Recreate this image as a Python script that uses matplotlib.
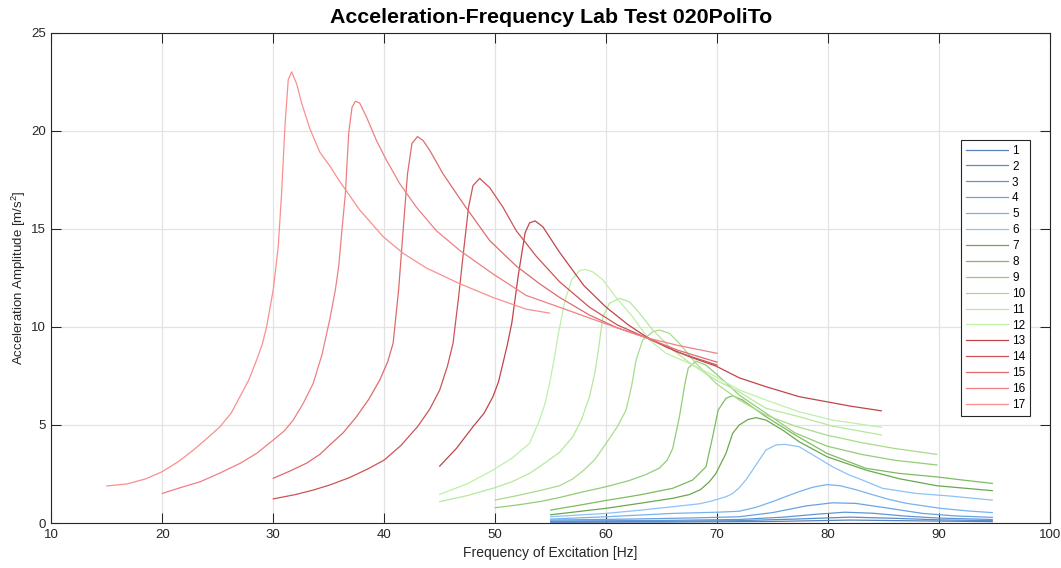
import matplotlib
matplotlib.use("Agg")
import matplotlib.pyplot as plt

plt.rcParams["font.family"] = ["Liberation Sans", "DejaVu Sans"]
plt.rcParams["mathtext.fontset"] = "custom"
plt.rcParams["mathtext.rm"] = "Liberation Sans"
plt.rcParams["mathtext.it"] = "Liberation Sans"

# sweep runs: frequency [Hz] and acceleration amplitude [m/s^2]
f1 = [55, 65, 75, 82, 88, 94.8]
a1 = [0.04, 0.05, 0.08, 0.15, 0.11, 0.07]

f2 = [55, 65, 72, 77, 82, 86, 90, 94.8]
a2 = [0.07, 0.09, 0.12, 0.2, 0.3, 0.24, 0.16, 0.12]

f3 = [55, 65, 72, 76, 79, 81.5, 84, 87, 90, 94.8]
a3 = [0.1, 0.13, 0.18, 0.3, 0.45, 0.55, 0.5, 0.35, 0.25, 0.18]

f4 = [55, 62, 68, 72, 75, 78, 80.4, 82.5, 85.5, 88.5, 91.5, 94.8]
a4 = [0.15, 0.2, 0.26, 0.32, 0.53, 0.87, 1.03, 1.0, 0.75, 0.49, 0.36, 0.29]

f5 = [55, 60, 66, 70, 72, 73.5, 75, 76.2, 77.4, 78.6, 79.9, 81.1, 82.5,
      84.1, 85.5, 87.1, 90.1, 92.5, 94.8]
a5 = [0.2, 0.32, 0.49, 0.55, 0.6, 0.8, 1.09, 1.35, 1.6, 1.82, 1.96, 1.9, 1.7,
      1.43, 1.2, 1.0, 0.75, 0.62, 0.53]

f6 = [55, 60, 63, 66, 68.4, 69.5, 70.8, 71.4, 72.0, 72.6, 73.2, 73.8, 74.4,
      75.3, 76.1, 77.4, 78.9, 80.4, 81.9, 83.1, 84.9, 87.9, 90.9, 94.8]
a6 = [0.32, 0.49, 0.65, 0.83, 0.98, 1.12, 1.34, 1.5, 1.8, 2.2, 2.7, 3.21, 3.72,
      3.98, 4.01, 3.89, 3.38, 2.87, 2.45, 2.19, 1.77, 1.51, 1.38, 1.17]

f7 = [55, 60, 63, 66, 67.5, 68.5, 69.3, 69.9, 70.8, 71.4, 72.0, 72.8, 73.5,
      74.4, 75.9, 77.4, 79.9, 83.4, 86.4, 89.8, 94.8]
a7 = [0.42, 0.75, 1.0, 1.26, 1.45, 1.7, 2.1, 2.53, 3.55, 4.57, 5.0, 5.28, 5.37,
      5.25, 4.74, 4.14, 3.38, 2.7, 2.26, 1.9, 1.65]

f8 = [55, 57.5, 60, 63, 66, 67.8, 69.0, 69.6, 70.1, 70.8, 71.4, 72.3, 74.4,
      76.8, 79.9, 83.4, 86.4, 89.8, 92.0, 94.8]
a8 = [0.66, 0.9, 1.15, 1.43, 1.77, 2.19, 2.87, 4.4, 5.76, 6.36, 6.49, 6.27, 5.42,
      4.57, 3.55, 2.79, 2.53, 2.35, 2.2, 2.02]

f9 = [50, 52, 54, 55.8, 58, 60, 62, 63.5, 64.8, 65.5, 66.0, 66.6, 67.1, 67.4,
      68.1, 69.0, 70.2, 72.0, 74.4, 77.0, 79.9, 83.0, 86.0, 89.8]
a9 = [0.78, 0.92, 1.09, 1.3, 1.6, 1.85, 2.15, 2.45, 2.8, 3.2, 3.8, 5.4, 7.1, 7.9,
      8.25, 8.05, 7.46, 6.52, 5.6, 4.6, 3.92, 3.5, 3.2, 2.96]

f10 = [50, 52, 54, 55.8, 57, 58, 59, 60, 61, 61.8, 62.3, 62.7, 63.3, 64.2,
       64.8, 65.7, 66.6, 68.1, 69.9, 72.0, 74.4, 77.0, 79.9, 83.0, 86.0, 89.8]
a10 = [1.17, 1.4, 1.65, 1.9, 2.25, 2.7, 3.25, 4.06, 4.9, 5.76, 7.0, 8.31, 9.33,
       9.75, 9.84, 9.67, 9.16, 8.14, 7.12, 6.27, 5.5, 4.95, 4.48, 4.1, 3.8, 3.5]

f11 = [45, 47.5, 49.8, 51.5, 53.1, 54.0, 55.8, 57.0, 57.8, 58.5, 59.0, 59.3,
       59.7, 60.3, 61.2, 62.1, 63.0, 64.2, 66.0, 67.8, 69.9, 72.0, 74.4, 77.4,
       80.4, 84.8]
a11 = [1.09, 1.4, 1.77, 2.1, 2.53, 2.87, 3.6, 4.4, 5.3, 6.44, 7.7, 8.82, 10.5,
       11.2, 11.45, 11.28, 10.7, 9.84, 8.82, 8.05, 7.29, 6.68, 5.85, 5.42, 4.94,
       4.49]

f12 = [45, 47.5, 49.8, 51.5, 53.1, 54.0, 54.5, 54.9, 55.3, 55.7, 56.3, 56.9,
       57.6, 58.1, 58.8, 59.7, 60.9, 62.4, 63.9, 65.4, 67.5, 69.6, 72.0, 74.4,
       77.4, 80.4, 84.8]
a12 = [1.46, 2.0, 2.7, 3.3, 4.06, 5.25, 6.1, 7.12, 8.3, 9.67, 11.37, 12.4,
       12.86, 12.93, 12.8, 12.4, 11.5, 10.5, 9.33, 8.65, 8.14, 7.54, 6.78, 6.27,
       5.67, 5.25, 4.88]

f13 = [45, 46.5, 48, 49, 49.8, 50.3, 50.7, 51.1, 51.5, 52.1, 52.7, 53.1, 53.6,
       54.3, 55.8, 58, 60, 62, 63.6, 65.5, 67.5, 69.9, 72, 74.4, 77.4, 79.9,
       82, 84.8]
a13 = [2.9, 3.8, 4.91, 5.6, 6.44, 7.2, 8.14, 9.1, 10.2, 12.7, 14.8, 15.3, 15.4,
       15.1, 13.8, 12.1, 11.0, 10.1, 9.5, 8.95, 8.48, 8.0, 7.4, 6.95, 6.44, 6.18,
       5.96, 5.72]

f14 = [30, 32, 33.6, 35.1, 36.8, 38.5, 40, 41.5, 43, 44.1, 45, 45.7, 46.2, 46.7,
       47.1, 47.6, 48, 48.6, 49.5, 50.7, 51.9, 53.7, 55.8, 58.5, 61, 63.6, 66.5,
       70]
a14 = [1.23, 1.45, 1.68, 1.94, 2.3, 2.75, 3.21, 3.95, 4.91, 5.8, 6.78, 8.0, 9.16,
       11.5, 13.6, 16.1, 17.2, 17.57, 17.1, 16.1, 14.9, 13.6, 12.3, 11.0, 10.1,
       9.45, 8.7, 8.05]

f15 = [30, 31.5, 33, 34.2, 35.1, 36.3, 37.5, 38.6, 39.6, 40.3, 40.8, 41.3, 41.7,
       42.1, 42.5, 43, 43.5, 44.1, 45.3, 47.1, 49.5, 51.9, 54, 55.8, 58.5, 61,
       63.6, 66.5, 70]
a15 = [2.28, 2.65, 3.05, 3.5, 3.98, 4.6, 5.42, 6.3, 7.29, 8.2, 9.16, 11.9, 14.9,
       17.8, 19.35, 19.7, 19.5, 19.0, 17.8, 16.3, 14.4, 13.1, 12.2, 11.5, 10.6,
       9.95, 9.45, 8.8, 8.2]

f16 = [20, 21.5, 23.4, 25.2, 27, 28.5, 30, 31, 31.8, 32.7, 33.6, 34.4, 35.1,
       35.6, 35.9, 36.2, 36.5, 36.8, 37.1, 37.4, 37.8, 38.4, 39.3, 40.2, 41.4,
       42.9, 44.7, 46.8, 49.8, 52.8, 55.8, 58.5, 61, 63.6, 66.5, 70]
a16 = [1.51, 1.78, 2.1, 2.55, 3.04, 3.55, 4.23, 4.7, 5.25, 6.1, 7.12, 8.6, 10.4,
       11.9, 13.1, 15.0, 16.8, 19.9, 21.2, 21.5, 21.4, 20.7, 19.5, 18.5, 17.3,
       16.1, 14.9, 13.9, 12.7, 11.6, 11.0, 10.45, 9.95, 9.45, 9.05, 8.65]

f17 = [15, 16.8, 18.5, 20, 21.5, 22.8, 24, 25.2, 26.2, 27, 27.8, 28.5, 29, 29.4,
       30, 30.45, 30.75, 31.05, 31.35, 31.66, 32.1, 32.56, 33.3, 34.2, 35.1, 36,
       37.8, 39.9, 41.7, 43.8, 46.8, 49.8, 52.8, 54.9]
a17 = [1.89, 1.99, 2.25, 2.62, 3.15, 3.72, 4.3, 4.91, 5.6, 6.44, 7.3, 8.31, 9.1,
       10.0, 11.9, 14.1, 16.8, 20.2, 22.6, 23.0, 22.4, 21.4, 20.1, 18.9, 18.2,
       17.4, 15.95, 14.6, 13.75, 13.0, 12.2, 11.5, 10.9, 10.7]

freqs = [f1, f2, f3, f4, f5, f6, f7, f8, f9, f10, f11, f12, f13, f14, f15, f16, f17]
amps = [a1, a2, a3, a4, a5, a6, a7, a8, a9, a10, a11, a12, a13, a14, a15, a16, a17]
labels = [str(i) for i in range(1, 18)]

colors = [
    "#5b83b8", "#5a8cc8", "#5f96d6", "#68a2e2", "#78b2ee", "#8cc2f6",
    "#6aa84f", "#7fbb62", "#94cc78", "#a8dc8c", "#b6e89e", "#bff0a8",
    "#c0454a", "#cc5458", "#dd6b6e", "#ee8084", "#fb8f8f",
]

fig = plt.figure(figsize=(10.61, 5.68), dpi=100)
ax = fig.add_axes([0.0484, 0.0792, 0.9412, 0.8634])

for f, a, c, lab in zip(freqs, amps, colors, labels):
    ax.plot(f, a, color=c, lw=0.9, label=lab)

ax.set_xlim(10, 100)
ax.set_ylim(0, 25)
ax.set_xticks(range(10, 101, 10))
ax.set_yticks(range(0, 26, 5))
ax.grid(True, color="#e3e3e3", lw=0.9)
ax.set_axisbelow(True)
ax.tick_params(direction="in", top=True, right=True, length=7, width=0.75,
               labelsize=9.5, colors="#262626", pad=4)
for s in ax.spines.values():
    s.set_color("#262626")
    s.set_linewidth(0.8)

ax.set_title("Acceleration-Frequency Lab Test 020PoliTo", fontsize=15.4,
             fontweight="bold", pad=7)
ax.set_xlabel("Frequency of Excitation [Hz]", fontsize=10, color="#262626",
              labelpad=4)
ax.set_ylabel(r"Acceleration Amplitude [m/s$^2$]", fontsize=9.5,
              color="#262626", labelpad=2)

leg = ax.legend(loc="upper right", bbox_to_anchor=(0.98, 0.781), fontsize=8.5,
                handlelength=3.6, handletextpad=0.3, labelspacing=0.33,
                borderpad=0.4, fancybox=False, framealpha=1, borderaxespad=0)
leg.get_frame().set_edgecolor("#262626")
leg.get_frame().set_linewidth(0.8)

fig.savefig("out.png", dpi=100)
